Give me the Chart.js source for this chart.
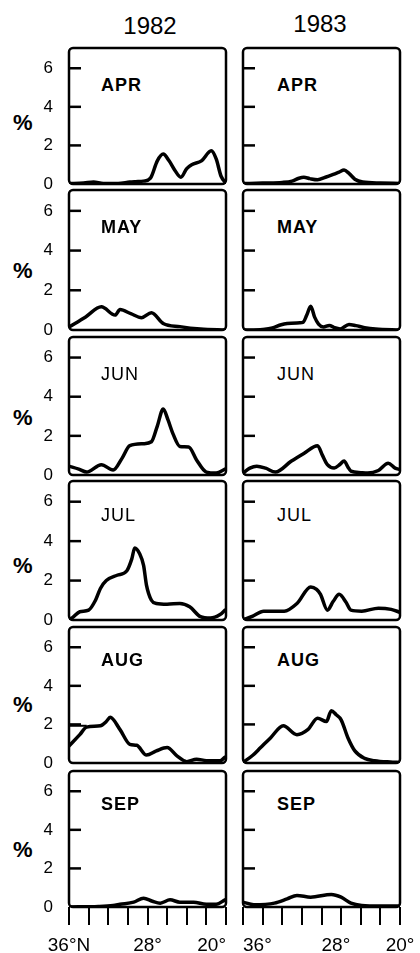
<!DOCTYPE html>
<html><head><meta charset="utf-8">
<script src="https://cdn.jsdelivr.net/npm/chart.js@4.4.1/dist/chart.umd.min.js"></script>
<style>
html,body{margin:0;padding:0;background:#fff;}
#wrap{position:relative;width:420px;height:953px;overflow:hidden;background:#fff;font-family:"Liberation Sans",Arial,sans-serif;color:#000;}
canvas{position:absolute;}
.t{position:absolute;line-height:1;white-space:nowrap;}
.year{font-size:24px;transform:translateX(-50%);}
.pct{font-size:22px;font-weight:bold;left:13px;}
.mon{font-size:18px;letter-spacing:1px;}
</style></head><body><div id="wrap"></div>
<script>
// ---- data (latitude in degrees N, percentage) ----
const years = ['1982', '1983'];
const months = ['APR', 'MAY', 'JUN', 'JUL', 'AUG', 'SEP'];
const yTickValues = [0, 2, 4, 6];
const xTickLabelValues = [36, 28, 20];
const xTickLabels1982 = ['36°N', '28°', '20°'];
const xTickLabels1983 = ['36°', '28°', '20°'];

const apr1982Lat = [36, 34.5, 33.5, 32.5, 31, 29.8, 29.2, 28.4, 27.7, 27.0, 26.4, 25.8, 25.2, 24.6, 24.0, 23.5, 22.5, 21.5, 21.0, 20.5, 20];
const apr1982Pct = [0.02, 0.05, 0.1, 0.03, 0.03, 0.1, 0.12, 0.15, 0.3, 1.2, 1.55, 1.2, 0.7, 0.35, 0.8, 1.0, 1.2, 1.72, 1.3, 0.4, 0.05];
const apr1983Lat = [36, 34, 32, 31, 30.3, 29.8, 29.2, 28.4, 27.6, 26.8, 26.2, 25.7, 25.2, 24.6, 23.8, 22, 20];
const apr1983Pct = [0.02, 0.05, 0.08, 0.15, 0.3, 0.35, 0.28, 0.22, 0.35, 0.5, 0.62, 0.72, 0.55, 0.25, 0.1, 0.05, 0.03];

const may1982Lat = [36, 34.3, 32.7, 31.3, 30.8, 29.7, 28.6, 27.6, 26.4, 24.7, 22.6, 20];
const may1982Pct = [0.15, 0.66, 1.17, 0.75, 1.03, 0.82, 0.62, 0.87, 0.33, 0.17, 0.05, 0];
const may1983Lat = [36, 34, 33, 32.2, 31.5, 30.2, 29.9, 29.5, 29.1, 28.7, 28.3, 27.8, 27.2, 26.7, 26.1, 25.2, 24.5, 23.6, 22.5, 20];
const may1983Pct = [0, 0.03, 0.1, 0.25, 0.33, 0.36, 0.38, 0.75, 1.2, 0.65, 0.3, 0.15, 0.23, 0.12, 0.05, 0.28, 0.22, 0.12, 0.05, 0];

const jun1982Lat = [36, 35, 34.2, 32.7, 31.5, 30.6, 29.8, 28.4, 27.6, 27.0, 26.4, 25.9, 25.4, 24.7, 23.8, 23.0, 22.0, 21.0, 20.1];
const jun1982Pct = [0.45, 0.3, 0.15, 0.53, 0.25, 0.85, 1.5, 1.6, 1.7, 2.5, 3.37, 2.8, 2.1, 1.46, 1.43, 0.77, 0.15, 0.1, 0.3];
const jun1983Lat = [36, 35.3, 34.6, 33.7, 32.7, 31.1, 29.8, 28.4, 27.9, 27.4, 26.7, 26.1, 25.7, 25.3, 25.0, 24, 23.3, 22.2, 21.2, 20.5, 20];
const jun1983Pct = [0.1, 0.35, 0.45, 0.35, 0.15, 0.7, 1.1, 1.5, 1.0, 0.53, 0.36, 0.55, 0.72, 0.4, 0.2, 0.12, 0.1, 0.23, 0.6, 0.35, 0.28];

const jul1982Lat = [36, 35.7, 34.9, 34.0, 33.3, 32.8, 32.2, 31.1, 30.1, 29.6, 29.3, 28.8, 28.4, 28.1, 27.6, 27.1, 26.0, 24.7, 23.7, 22.6, 21.6, 20.6, 20.1];
const jul1982Pct = [0.05, 0.1, 0.42, 0.5, 1.0, 1.6, 2.0, 2.27, 2.5, 3.1, 3.65, 3.36, 2.77, 1.76, 1.0, 0.84, 0.8, 0.84, 0.67, 0.17, 0.1, 0.28, 0.5];
const jul1983Lat = [36, 35, 33.9, 31.8, 30.5, 29.1, 28.5, 28.1, 27.4, 26.8, 26.2, 25.5, 25.0, 23.9, 22.2, 20.9, 20];
const jul1983Pct = [0, 0.2, 0.45, 0.45, 0.84, 1.68, 1.55, 1.3, 0.5, 0.95, 1.3, 0.9, 0.5, 0.45, 0.6, 0.54, 0.39];

const aug1982Lat = [36, 34.9, 34.2, 32.8, 32.2, 31.8, 30.8, 29.8, 29.1, 28.1, 27.1, 26.0, 25.0, 24.0, 23.0, 22.0, 20.6, 20.1];
const aug1982Pct = [0.88, 1.47, 1.86, 1.93, 2.15, 2.37, 1.73, 0.97, 0.92, 0.41, 0.63, 0.8, 0.37, 0.07, 0.2, 0.12, 0.12, 0.3];
const aug1982UpperLat = [36, 34.2];
const aug1982UpperPct = [1.93, 1.93];
const aug1983Lat = [36, 35, 34.2, 33.2, 31.9, 30.5, 29.4, 28.4, 27.5, 27.0, 26.5, 26.0, 25.3, 24.6, 23.6, 22.6, 21, 20];
const aug1983Pct = [0.03, 0.4, 0.8, 1.3, 1.93, 1.47, 1.73, 2.32, 2.15, 2.71, 2.5, 2.24, 1.3, 0.63, 0.24, 0.12, 0.05, 0.03];

const sep1982Lat = [36, 33, 31.5, 30.8, 29.4, 28.4, 27.5, 26.7, 25.7, 24.7, 23.3, 22.0, 21.0, 20.1];
const sep1982Pct = [0, 0.03, 0.08, 0.14, 0.25, 0.46, 0.3, 0.2, 0.37, 0.25, 0.25, 0.14, 0.14, 0.37];
const sep1983Lat = [36, 34.9, 32.8, 31.5, 30.5, 29.1, 27.0, 26.0, 25.0, 23.9, 22, 20];
const sep1983Pct = [0.25, 0.12, 0.2, 0.42, 0.6, 0.51, 0.65, 0.51, 0.2, 0.08, 0.05, 0.05];

const series1982 = [[apr1982Lat, apr1982Pct], [may1982Lat, may1982Pct], [jun1982Lat, jun1982Pct], [jul1982Lat, jul1982Pct], [aug1982Lat, aug1982Pct], [sep1982Lat, sep1982Pct]];
const series1983 = [[apr1983Lat, apr1983Pct], [may1983Lat, may1983Pct], [jun1983Lat, jun1983Pct], [jul1983Lat, jul1983Pct], [aug1983Lat, aug1983Pct], [sep1983Lat, sep1983Pct]];
const extra1982 = {4: [aug1982UpperLat, aug1982UpperPct]};

// ---- layout ----
const rowBox = [[48, 184], [190, 330], [337, 475], [481, 620], [627, 763], [771, 907]];
const capTop = [78, 220, 367, 508, 653, 797];
const pctCenter = [123, 271, 418, 566, 705, 850];
const monthWeight = ['bold', 'bold', 'normal', 'normal', 'bold', 'bold'];
const PAD = 12;

const wrap = document.getElementById('wrap');
function addText(txt, cls, css) {
  const d = document.createElement('div');
  d.className = 't ' + cls;
  d.textContent = txt;
  Object.assign(d.style, css);
  wrap.appendChild(d);
}
addText(years[0], 'year', {left: '150px', top: '14px'});
addText(years[1], 'year', {left: '320px', top: '12px'});

Chart.defaults.font.family = '"Liberation Sans", Arial, sans-serif';

const framePlugin = {
  id: 'frame',
  afterDraw(chart, args, opts) {
    const {ctx, chartArea: a} = chart;
    const y = chart.scales.y, x = chart.scales.x;
    ctx.save();
    ctx.strokeStyle = '#000';
    ctx.lineWidth = 2.5;
    ctx.beginPath();
    ctx.roundRect(a.left, a.top, a.right - a.left, a.bottom - a.top, 4);
    ctx.stroke();
    yTickValues.slice(1).forEach(v => {
      const py = y.getPixelForValue(v);
      ctx.beginPath();
      ctx.moveTo(a.left, py);
      ctx.lineTo(a.left + 12, py);
      ctx.stroke();
    });
    if (opts.xLabels) {
      ctx.fillStyle = '#000';
      ctx.font = '19px "Liberation Sans", Arial, sans-serif';
      ctx.textBaseline = 'alphabetic';
      opts.xLabels.forEach((t, i) => {
        ctx.textAlign = opts.xAlign[i];
        ctx.fillText(t, x.getPixelForValue(xTickLabelValues[i]), a.bottom + 44);
      });
    }
    ctx.restore();
  }
};

function toPts(pair) { return pair[0].map((v, i) => ({x: v, y: pair[1][i]})); }

for (let r = 0; r < 6; r++) {
  const [T, B] = rowBox[r];
  const bottom = r === 5;
  addText('%', 'pct', {top: (pctCenter[r] - 10.6) + 'px'});
  for (let c = 0; c < 2; c++) {
    const left = c === 0;
    addText(months[r], 'mon', {left: (left ? 101 : 277) + 'px', top: (capTop[r] - 2) + 'px', fontWeight: monthWeight[r]});
    const cv = document.createElement('canvas');
    const cw = left ? 212 : 183;
    const ch = (B - T) + PAD + (bottom ? 48 : PAD);
    cv.width = cw; cv.height = ch;
    cv.style.left = (left ? 20 : 237) + 'px';
    cv.style.top = (T - PAD) + 'px';
    cv.style.width = cw + 'px'; cv.style.height = ch + 'px';
    wrap.appendChild(cv);
    const src = left ? series1982[r] : series1983[r];
    const datasets = [{
      data: toPts(src), borderColor: '#000', borderWidth: 3.5, pointRadius: 0,
      fill: false, cubicInterpolationMode: 'monotone', borderJoinStyle: 'round', borderCapStyle: 'round'
    }];
    if (left && extra1982[r]) {
      datasets.push({data: toPts(extra1982[r]), borderColor: '#000', borderWidth: 2, pointRadius: 0, fill: false});
    }
    new Chart(cv, {
      type: 'line',
      data: {datasets},
      plugins: [framePlugin],
      options: {
        responsive: false, maintainAspectRatio: false, animation: false, devicePixelRatio: 1,
        layout: {padding: {left: left ? 0 : 6, right: left ? 6 : 20, top: PAD, bottom: bottom ? 0 : PAD}},
        plugins: {
          legend: {display: false}, tooltip: {enabled: false},
          frame: bottom ? {xLabels: left ? xTickLabels1982 : xTickLabels1983, xAlign: left ? ['center', 'center', 'right'] : ['left', 'left', 'center']} : {}
        },
        scales: {
          x: {
            type: 'linear', min: 20, max: 36, reverse: true, display: bottom,
            ticks: {stepSize: 2, display: false},
            grid: {drawOnChartArea: false, drawTicks: true, tickLength: 18, color: '#000', lineWidth: 2},
            border: {display: false},
            afterFit: s => { s.height = bottom ? 48 : 0; }
          },
          y: {
            type: 'linear', min: 0, max: 7.05, display: left,
            ticks: {stepSize: 2, color: '#000', font: {size: 17, lineHeight: 1}, padding: 0,
              callback: v => yTickValues.includes(v) ? String(v) : null},
            grid: {drawOnChartArea: false, drawTicks: true, tickLength: 16, color: 'rgba(0,0,0,0)'},
            border: {display: false},
            afterFit: s => { s.width = left ? 49 : 0; }
          }
        }
      }
    });
  }
}
</script>
</body></html>
